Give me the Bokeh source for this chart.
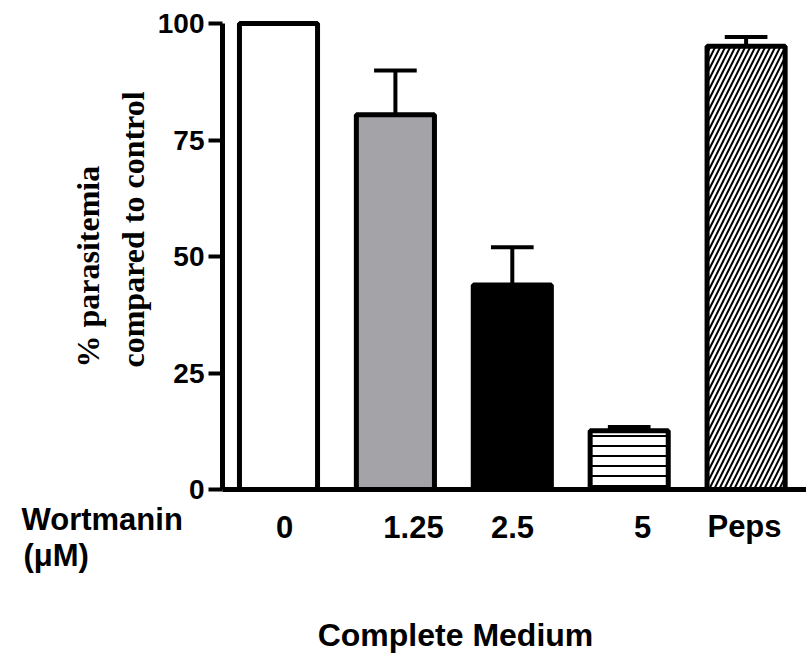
from bokeh.plotting import figure
from bokeh.models import ColumnDataSource, Label, Range1d, FixedTicker, LinearAxis
from bokeh.embed import file_html
from bokeh.resources import INLINE

# ---- data ----
conditions = ["0", "1.25", "2.5", "5", "Peps"]
means = [100.0, 80.4, 43.9, 12.6, 95.1]
errors = [0.0, 9.5, 8.1, 0.8, 2.0]
fills = ["#ffffff", "#a4a3a8", "#000000", "#ffffff", "#ffffff"]
hatches = ["blank", "blank", "blank", "horizontal_line", "right_diagonal_line"]
y_ticks = [0, 25, 50, 75, 100]
x_title = "Complete Medium"
x_group_title = ["Wortmanin", "(\u03bcM)"]
y_title = ["% parasitemia", "compared to control"]

# ---- layout geometry (pixels) ----
W, H = 806, 665
AX_LEFT, AX_RIGHT, AX_BOTTOM = 222, 806, 489
X0PX, XPX = 278.0, 116.9   # pixel of bar 0 centre, pixels per category
YPX = 4.66                 # pixels per percent


def px2x(px):
    return (px - X0PX) / XPX


def py2y(py):
    return (AX_BOTTOM - py) / YPX


pos = list(range(len(conditions)))

p = figure(width=W, height=H, output_backend="svg", toolbar_location=None,
           x_range=Range1d(px2x(0), px2x(W)),
           y_range=Range1d(py2y(H), py2y(0)),
           x_axis_location=None, y_axis_location=None,
           min_border=0, min_border_left=0, min_border_right=0,
           min_border_top=0, min_border_bottom=0)
p.outline_line_color = None
p.grid.visible = False
p.background_fill_color = "white"
p.border_fill_color = "white"

src = ColumnDataSource(dict(x=pos, top=means, fill=fills, hatch=hatches))
p.vbar(x="x", top="top", bottom=0, width=0.668, source=src,
       fill_color="fill", line_color="black", line_width=5,
       hatch_pattern="hatch", hatch_color="black", hatch_scale=10,
       hatch_weight=2)

# error bars (upper only)
ex = [x for x, e in zip(pos, errors) if e > 0]
ey0 = [m for m, e in zip(means, errors) if e > 0]
ey1 = [m + e for m, e in zip(means, errors) if e > 0]
p.segment(x0=ex, y0=ey0, x1=ex, y1=ey1, line_color="black", line_width=4)
cap = 0.365
p.segment(x0=[x - cap / 2 for x in ex], y0=ey1, x1=[x + cap / 2 for x in ex],
          y1=ey1, line_color="black", line_width=4)

SANS = "Liberation Sans"
SERIF = "Liberation Serif"

# y axis at a fixed location
ya = LinearAxis(fixed_location=px2x(AX_LEFT))
ya.ticker = FixedTicker(ticks=y_ticks)
ya.bounds = (0, 100)
ya.axis_line_width = 5
ya.major_tick_line_width = 4
ya.major_tick_out = 14
ya.major_tick_in = 0
ya.minor_tick_line_color = None
ya.major_label_standoff = 4
ya.major_label_text_font = SANS
ya.major_label_text_font_style = "bold"
ya.major_label_text_font_size = "28px"
ya.major_label_text_color = "black"
p.add_layout(ya, "left")

# x axis (line only) at y = 0
xa = LinearAxis(fixed_location=0)
xa.ticker = FixedTicker(ticks=[])
xa.bounds = (px2x(AX_LEFT), px2x(AX_RIGHT))
xa.axis_line_width = 5
xa.major_tick_line_color = None
xa.minor_tick_line_color = None
xa.major_label_text_font_size = "0px"
p.add_layout(xa, "below")


def add_text(txt, px, py, size, align="center", font=SANS, angle=0):
    p.add_layout(Label(x=px2x(px), y=py2y(py), text=txt, angle=angle,
                       angle_units="deg", text_align=align,
                       text_baseline="middle", text_font=font,
                       text_font_style="bold", text_font_size=size,
                       text_color="black"))


# category labels under the axis
label_px = [284, 413, 512, 642, 744]
for lab, lx in zip(conditions, label_px):
    add_text(lab, lx, 526, "31px")

add_text(x_group_title[0], 21, 519, "31px", align="left")
add_text(x_group_title[1], 23, 555, "31px", align="left")
add_text(x_title, 455, 634, "32px")

# rotated y title (two lines, left aligned, reading upwards)
for txt, cx in zip(y_title, [87, 132]):
    add_text(txt, cx, 367, "32px", align="left", font=SERIF, angle=90)

open("out.html", "w").write(file_html(p, INLINE))
